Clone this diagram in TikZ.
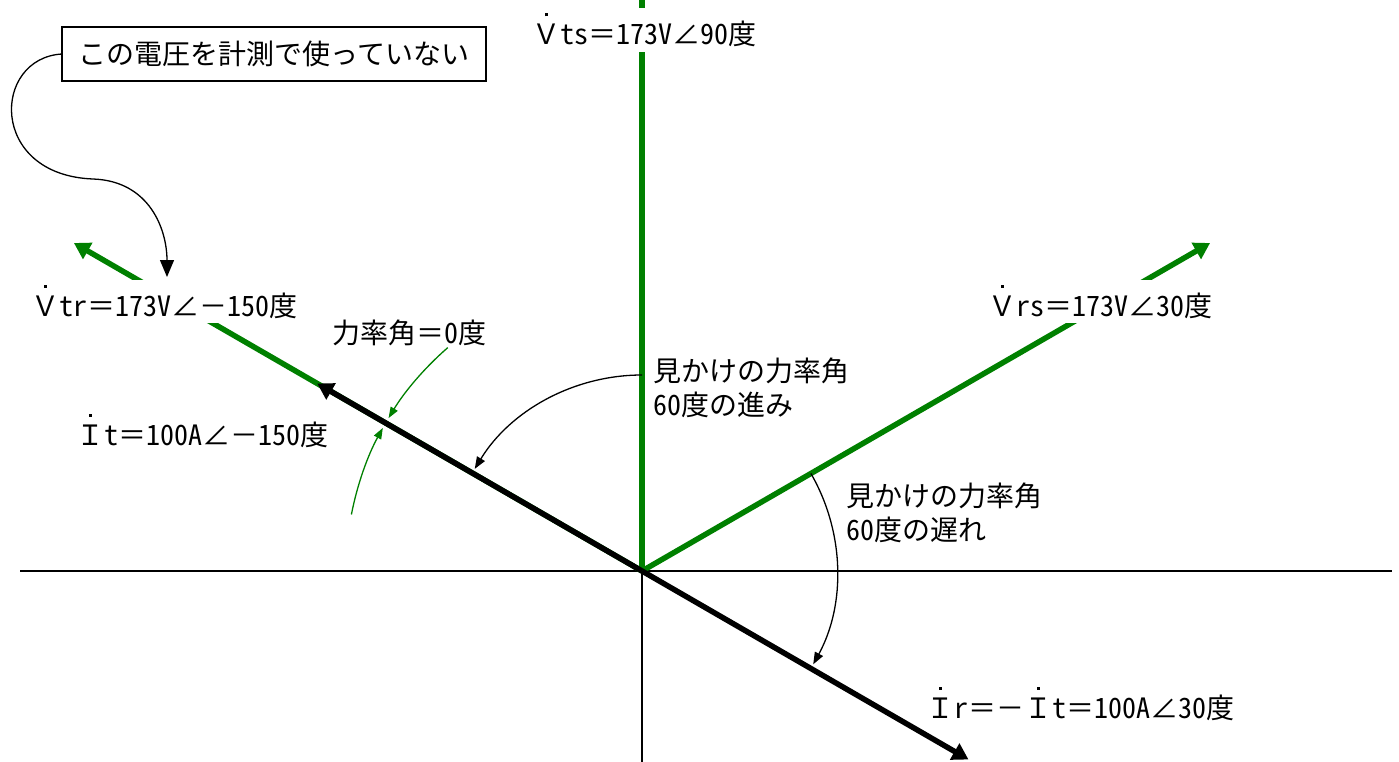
\documentclass[tikz,border=0pt]{standalone}
\usepackage{fontspec}
\setmainfont{Noto Sans CJK JP}
\newfontfamily\hw[CharacterWidth=Half]{Noto Sans CJK JP}
\usetikzlibrary{arrows.meta}
\definecolor{vgreen}{RGB}{0,128,0}
\newcommand\dt[1]{\setbox0=\hbox{#1}\rlap{\hbox to\wd0{\hss\raisebox{28.5pt}{\rule{3pt}{3pt}}\hss}}\box0}
\begin{document}
\begin{tikzpicture}[x=1pt,y=-1pt,
  every node/.style={font=\fontsize{28}{34}\selectfont, inner sep=0pt, outer sep=0pt},
  lbl/.style={fill=white, inner xsep=3pt, inner ysep=5pt, anchor=base},
  txt/.style={anchor=base west},
  axis/.style={line width=1.3pt, black},
  gvec/.style={line width=5.5pt, vgreen},
  gvecarr/.style={gvec, -{Triangle[length=16pt,width=18pt]}},
  bvec/.style={line width=5.5pt, black, -{Triangle[length=16pt,width=18pt]}},
  thinarr/.style={line width=1.3pt, black, -{Triangle[length=12pt,width=9pt]}},
  garr/.style={line width=1.3pt, vgreen, -{Triangle[length=11pt,width=8pt]}},
  notebox/.style={draw, line width=1.4pt, minimum width=424pt, minimum height=54pt},
  notearr/.style={line width=1.3pt, black, -{Triangle[length=17pt,width=14pt]}}
]
\useasboundingbox (0,0) rectangle (1399,762);
% coordinates
\coordinate (O) at (642,571);
\coordinate (xl) at (20,571);
\coordinate (xr) at (1392,571);
\coordinate (yb) at (642,762);
\coordinate (vtstop) at (642,0);
\coordinate (vrstip) at (1210.1,243);
\coordinate (vtrtip) at (73.9,243);
\coordinate (ittip) at (317.2,383.5);
\coordinate (irtip) at (968.5,759.5);
\coordinate (a1s) at (642,375);
\coordinate (a2s) at (810.9,473.5);
\coordinate (g1s) at (447.8,347.6);
\coordinate (g2s) at (351.4,514.5);
\coordinate (vtrmark) at (167,277);
% axes
\draw[axis] (xl) -- (xr);
\draw[axis] (O) -- (yb);
% voltage vectors
\draw[gvec] (O) -- (vtstop);
\draw[gvecarr] (O) -- (vrstip);
\draw[gvecarr] (O) -- (vtrtip);
% current vectors
\draw[bvec] (O) -- (ittip);
\draw[bvec] (O) -- (irtip);
% labels
\node[lbl] (vts) at (644,45) {\dt{Ｖ}{\hw ts}＝{\hw 173V}∠{\hw 90}度};
\node[lbl] (vtr) at (164,316) {\dt{Ｖ}{\hw tr}＝{\hw 173V}∠－{\hw 150}度};
\node[lbl] (vrs) at (1100,316) {\dt{Ｖ}{\hw rs}＝{\hw 173V}∠{\hw 30}度};
\node[lbl] (it) at (202,445) {\dt{Ｉ}{\hw t}＝{\hw 100A}∠－{\hw 150}度};
\node[lbl] (ir) at (1080,718) {\dt{Ｉ}{\hw r}＝－\dt{Ｉ}{\hw t}＝{\hw 100A}∠{\hw 30}度};
\node[lbl] (pf0) at (409,343) {力率角＝{\hw 0}度};
\node[txt] (lead1) at (653,381) {見かけの力率角};
\node[txt] (lead2) at (653,415) {{\hw 60}度の進み};
\node[txt] (lag1) at (846,506) {見かけの力率角};
\node[txt] (lag2) at (846,540) {{\hw 60}度の遅れ};
% angle arcs
\draw[thinarr] (a1s) arc[start angle=-90, end angle=-148.6, radius=196];
\draw[thinarr] (a2s) arc[start angle=-30, end angle=28.6, radius=195];
\draw[garr] (g1s) arc[start angle=-131, end angle=-148.9, radius=296];
\draw[garr] (g2s) arc[start angle=-169, end angle=-151.1, radius=296];
% note
\node[notebox] (note) at (274,54) {この電圧を計測で使っていない};
\draw[notearr] (note.west) .. controls (-8,58) and (-12,175) .. (93,179)
  .. controls (150,181) and (167,230) .. (vtrmark);
\end{tikzpicture}
\end{document}
